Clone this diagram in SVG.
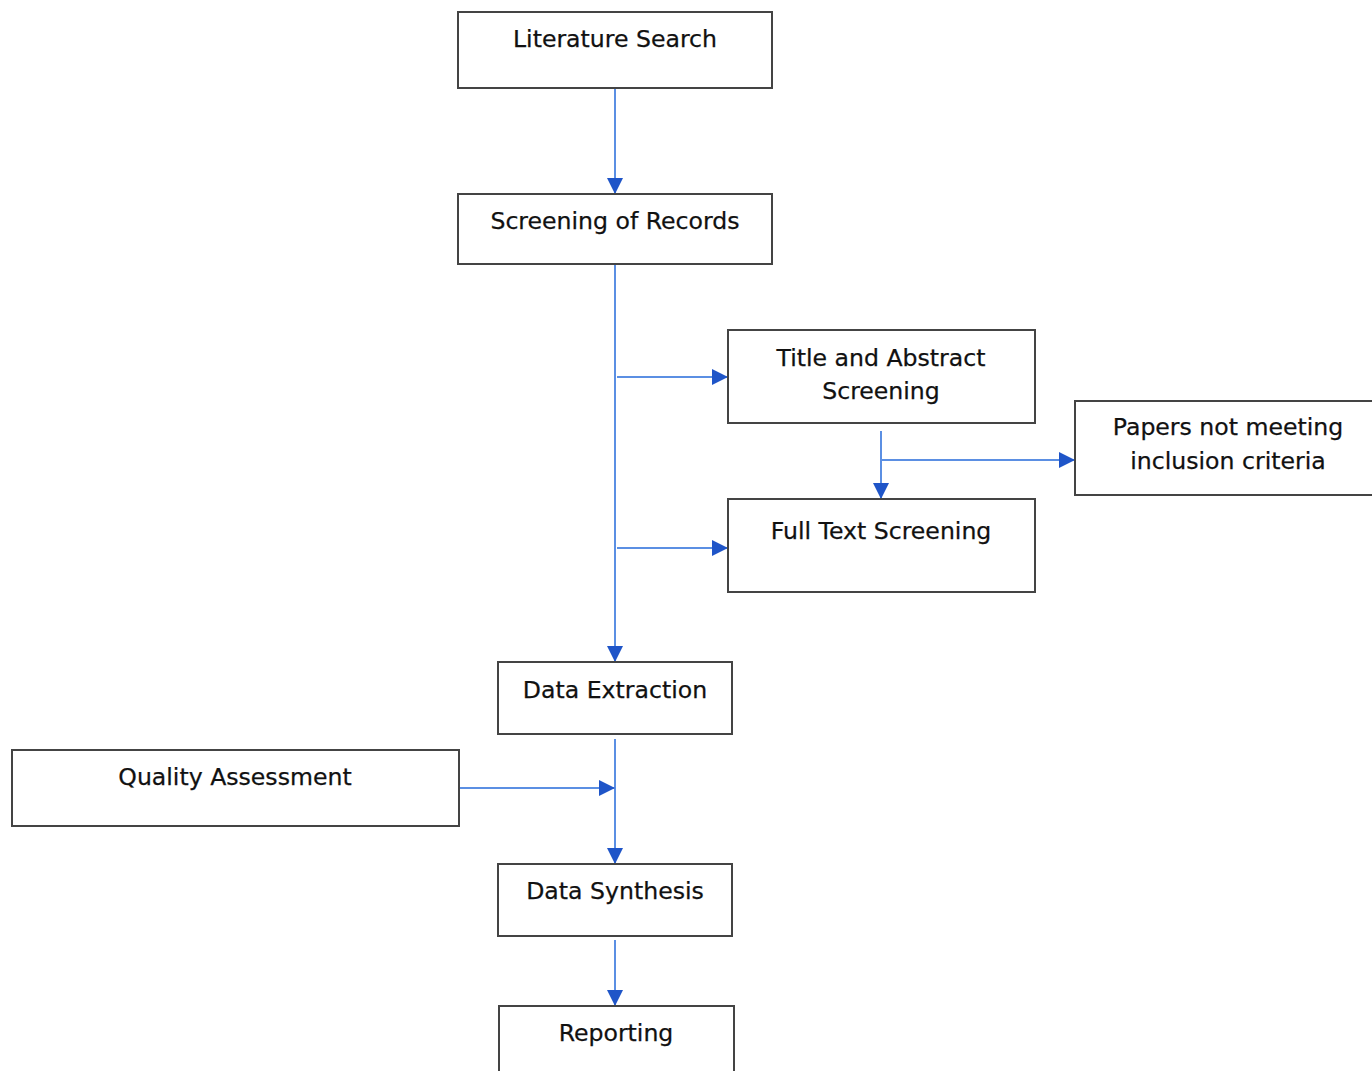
<svg xmlns="http://www.w3.org/2000/svg" width="1372" height="1071" viewBox="0 0 1372 1071">
<style>
.box{fill:#fff;stroke:#444;stroke-width:2}
.lbl{font-family:"DejaVu Sans",Verdana,sans-serif;font-size:23.6px;fill:#111;text-anchor:middle;stroke:#111;stroke-width:0.25}
.edge{stroke:#5b8fe3;stroke-width:2;fill:none}
</style>
<defs>
<marker id="ah" viewBox="0 0 16 16" refX="16" refY="8" markerWidth="16" markerHeight="16" markerUnits="userSpaceOnUse" orient="auto">
<path d="M0,0 L16,8 L0,16 Z" fill="#1f55c8"/>
</marker>
</defs>
<rect width="1372" height="1071" fill="#fff"/>
<g id="connectors">
<line class="edge" x1="615" y1="88" x2="615" y2="194" marker-end="url(#ah)"/>
<line class="edge" x1="615" y1="264" x2="615" y2="662" marker-end="url(#ah)"/>
<line class="edge" x1="617" y1="377" x2="728" y2="377" marker-end="url(#ah)"/>
<line class="edge" x1="617" y1="548" x2="728" y2="548" marker-end="url(#ah)"/>
<line class="edge" x1="881" y1="431" x2="881" y2="499" marker-end="url(#ah)"/>
<line class="edge" x1="881" y1="460" x2="1075" y2="460" marker-end="url(#ah)"/>
<line class="edge" x1="615" y1="739" x2="615" y2="864" marker-end="url(#ah)"/>
<line class="edge" x1="459" y1="788" x2="615" y2="788" marker-end="url(#ah)"/>
<line class="edge" x1="615" y1="940" x2="615" y2="1006" marker-end="url(#ah)"/>
</g>
<g id="literature-search"><rect class="box" x="458" y="12" width="314" height="76"/><text class="lbl" x="615" y="47">Literature Search</text></g>
<g id="screening-records"><rect class="box" x="458" y="194" width="314" height="70"/><text class="lbl" x="615" y="229">Screening of Records</text></g>
<g id="title-abstract"><rect class="box" x="728" y="330" width="307" height="93"/><text class="lbl" x="881" y="366">Title and Abstract</text><text class="lbl" x="881" y="399">Screening</text></g>
<g id="papers-not-meeting"><rect class="box" x="1075" y="401" width="300" height="94"/><text class="lbl" x="1228" y="435">Papers not meeting</text><text class="lbl" x="1228" y="469">inclusion criteria</text></g>
<g id="full-text"><rect class="box" x="728" y="499" width="307" height="93"/><text class="lbl" x="881" y="539">Full Text Screening</text></g>
<g id="data-extraction"><rect class="box" x="498" y="662" width="234" height="72"/><text class="lbl" x="615" y="698">Data Extraction</text></g>
<g id="quality-assessment"><rect class="box" x="12" y="750" width="447" height="76"/><text class="lbl" x="235" y="785">Quality Assessment</text></g>
<g id="data-synthesis"><rect class="box" x="498" y="864" width="234" height="72"/><text class="lbl" x="615" y="899">Data Synthesis</text></g>
<g id="reporting"><rect class="box" x="499" y="1006" width="235" height="70"/><text class="lbl" x="616" y="1041">Reporting</text></g>
</svg>
